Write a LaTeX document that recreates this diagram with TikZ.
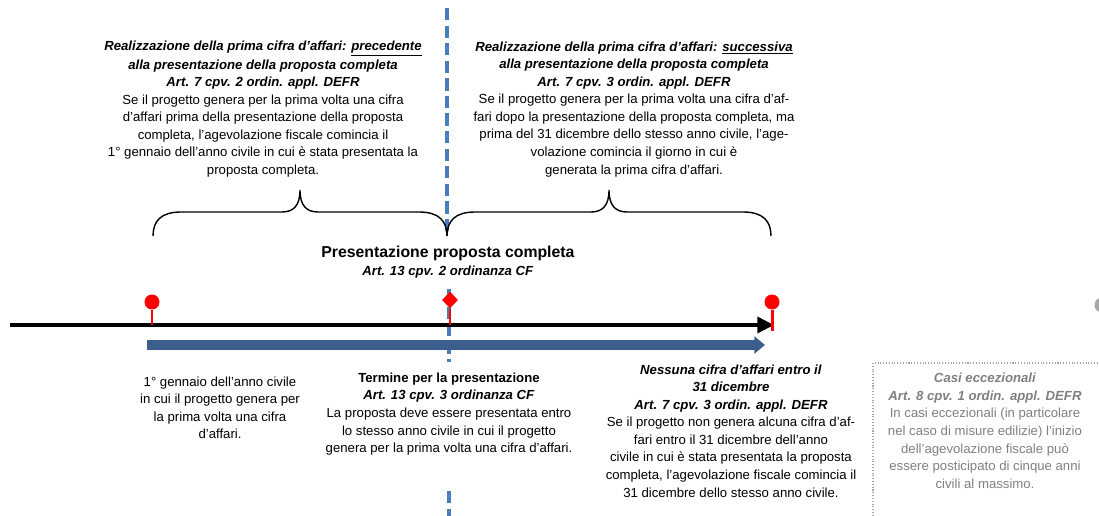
\documentclass[tikz,border=0pt]{standalone}
\usepackage{fontspec}
\setmainfont{Liberation Sans}
\usetikzlibrary{arrows.meta,shapes.geometric}

\definecolor{cutblue}{RGB}{74,126,187}
\definecolor{barblue}{RGB}{59,94,140}
\definecolor{notegray}{RGB}{128,128,128}
\definecolor{dotgray}{RGB}{166,166,166}

\tikzset{
  txt/.style={draw=none, inner sep=0pt, font=\fontsize{7.5}{10}\selectfont},
  cutline/.style={cutblue, line width=2.1pt, dash pattern=on 7pt off 3pt},
  bracel/.style={black, line width=0.8pt},
  axis/.style={black, line width=2.3pt, -{Triangle[length=9.5pt,width=9pt]}},
  bar/.style={barblue, line width=5.7pt, -{Triangle[length=6pt,width=9.5pt]}},
  pinball/.style={circle, fill=red, draw=none, inner sep=0pt, minimum size=0.3cm},
  pindia/.style={diamond, fill=red, draw=none, inner sep=0pt, minimum width=0.32cm, minimum height=0.34cm},
  pinstem/.style={red, line width=1.7pt},
}

\begin{document}
\begin{tikzpicture}[x=0.02cm,y=-0.02cm]
\useasboundingbox (0,0) rectangle (1099,516);

% blue dashed cut
\path[shape=coordinate]
(447,8) coordinate(d1) (447,235) coordinate(d2)
(449,289) coordinate(d3) (449,362) coordinate(d4)
(449,491) coordinate(d5) (449,516) coordinate(d6);
\draw[cutline] (d1) -- (d2) (d3) -- (d4) (d5) -- (d6);

% braces
\foreach \a/\m/\b in {153/300/447,447/609/771}
  \draw[bracel] (\a,236) .. controls (\a,221) and ({\a+8},212) .. ({\a+28},212)
    -- ({\m-18},212) .. controls ({\m-6},212) and (\m,205) .. (\m,190)
    .. controls (\m,205) and ({\m+6},212) .. ({\m+18},212)
    -- ({\b-28},212) .. controls ({\b-8},212) and (\b,221) .. (\b,236);

% time axis
\path[shape=coordinate]
(10,325) coordinate(a0) (774,325) coordinate(a1)
(147,345) coordinate(b0) (765,345) coordinate(b1)
(772,331) coordinate(e3);
\draw[axis] (a0) -- (a1);
\draw[bar] (b0) -- (b1);

\node[pinball] (q1) at (152,302) {};
\node[pindia] (q2) at (450,300) {};
\node[pinball] (q3) at (772,302) {};
\draw[pinstem] (q1) -- (q1 |- a0);
\draw[pinstem] (q2) -- (q2 |- a0);
\draw[pinstem] (q3) -- (e3);

\node[pinball, fill=dotgray] (g1) at (1102,305) {};

% exceptional cases box
\draw[dotgray, densely dotted, line width=0.6pt] (873,363) rectangle (1115,530);

\node[txt] (t1) at (263,109){
\begin{tabular}{@{}c@{}}
\textbf{\textit{Realizzazione della prima cifra d’affari: \underline{precedente}}}\\
\textbf{\textit{alla presentazione della proposta completa}}\\
\textbf{\textit{Art. 7 cpv. 2 ordin. appl. DEFR}}\\
Se il progetto genera per la prima volta una cifra\\
d'affari prima della presentazione della proposta\\
completa, l’agevolazione fiscale comincia il\\
1° gennaio dell’anno civile in cui è stata presentata la\\
proposta completa.
\end{tabular}};
\node[txt] (t2) at (634,109){
\begin{tabular}{@{}c@{}}
\textbf{\textit{Realizzazione della prima cifra d’affari: \underline{successiva}}}\\
\textbf{\textit{alla presentazione della proposta completa}}\\
\textbf{\textit{Art. 7 cpv. 3 ordin. appl. DEFR}}\\
Se il progetto genera per la prima volta una cifra d'af-\\
fari dopo la presentazione della proposta completa, ma\\
prima del 31 dicembre dello stesso anno civile, l'age-\\
volazione comincia il giorno in cui è\\
generata la prima cifra d’affari.
\end{tabular}};
\node[txt] (t3) at (448,263){
\begin{tabular}{@{}c@{}}
{\fontsize{9}{10}\selectfont\textbf{Presentazione proposta completa}}\\
\textbf{\textit{Art. 13 cpv. 2 ordinanza CF}}
\end{tabular}};
\node[txt] (t4) at (220,409){
\begin{tabular}{@{}c@{}}
1° gennaio dell'anno civile\\
in cui il progetto genera per\\
la prima volta una cifra\\
d'affari.
\end{tabular}};
\node[txt] (t5) at (449,414){
\begin{tabular}{@{}c@{}}
\textbf{Termine per la presentazione}\\
\textbf{\textit{Art. 13 cpv. 3 ordinanza CF}}\\
La proposta deve essere presentata entro\\
lo stesso anno civile in cui il progetto\\
genera per la prima volta una cifra d'affari.
\end{tabular}};
\node[txt] (t6) at (731,432){
\begin{tabular}{@{}c@{}}
\textbf{\textit{Nessuna cifra d’affari entro il}}\\
\textbf{\textit{31 dicembre}}\\
\textbf{\textit{Art. 7 cpv. 3 ordin. appl. DEFR}}\\
Se il progetto non genera alcuna cifra d'af-\\
fari entro il 31 dicembre dell’anno\\
civile in cui è stata presentata la proposta\\
completa, l'agevolazione fiscale comincia il\\
31 dicembre dello stesso anno civile.
\end{tabular}};
\node[txt, text=notegray] (t7) at (985,432){
\begin{tabular}{@{}c@{}}
\textbf{\textit{Casi eccezionali}}\\
\textbf{\textit{Art. 8 cpv. 1 ordin. appl. DEFR}}\\
In casi eccezionali (in particolare\\
nel caso di misure edilizie) l'inizio\\
dell'agevolazione fiscale può\\
essere posticipato di cinque anni\\
civili al massimo.
\end{tabular}};

\end{tikzpicture}
\end{document}
